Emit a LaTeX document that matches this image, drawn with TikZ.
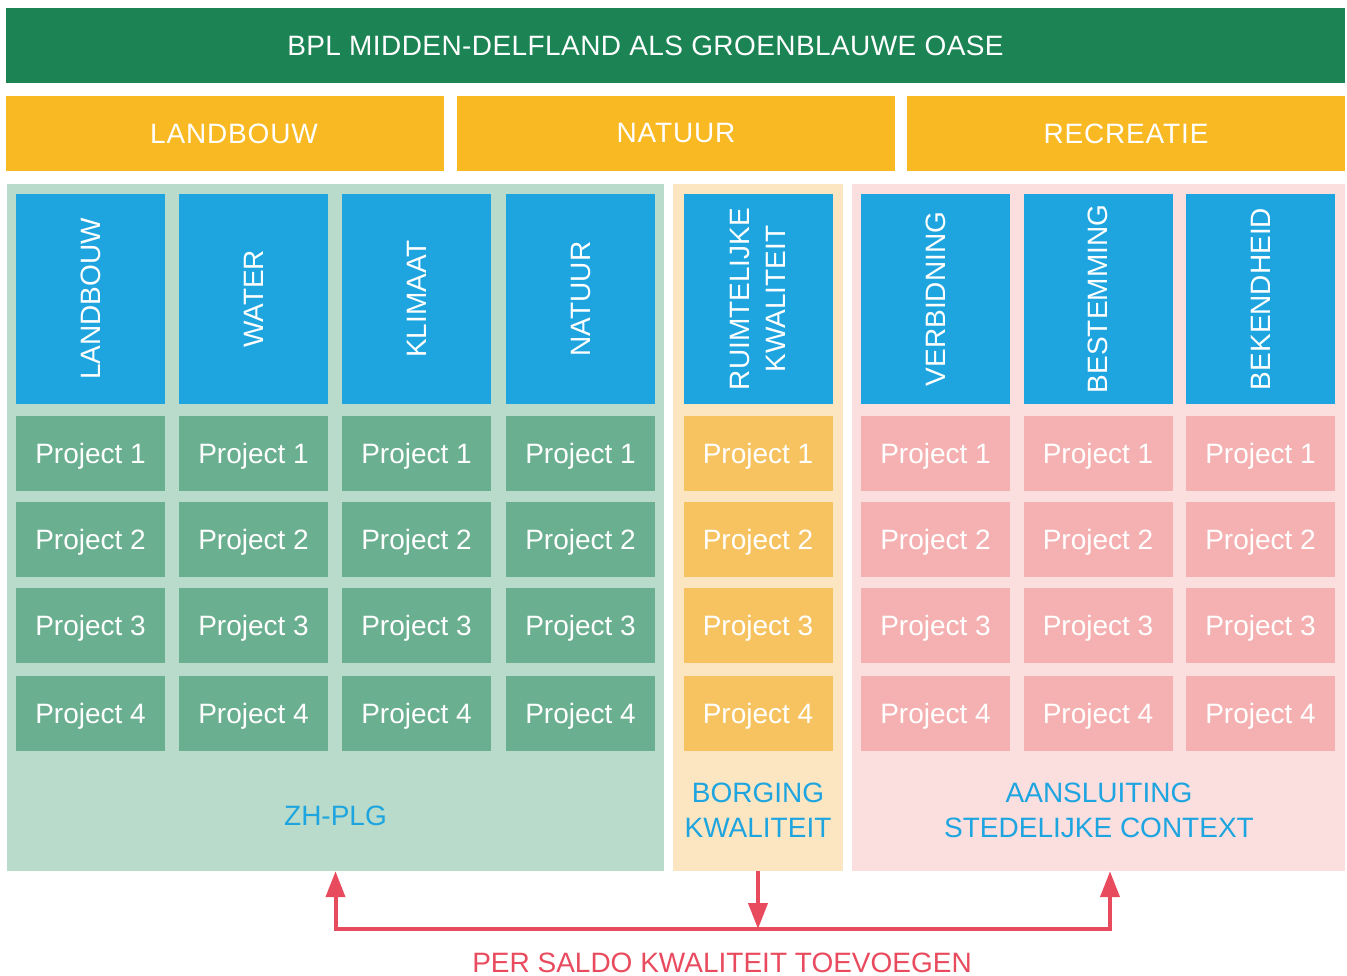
\documentclass[tikz,border=0pt]{standalone}
\usepackage{fontspec}
\setmainfont{Liberation Sans}
\usepackage{tikz}
\usetikzlibrary{positioning, arrows.meta}
\definecolor{bplgreen}{HTML}{1C8454}
\definecolor{themeorange}{HTML}{F9B922}
\definecolor{zhbg}{HTML}{B9DBCB}
\definecolor{zhproj}{HTML}{6AAF8F}
\definecolor{pillarblue}{HTML}{1EA5DF}
\definecolor{rkbg}{HTML}{FCE6C2}
\definecolor{rkproj}{HTML}{F6C360}
\definecolor{stbg}{HTML}{FBDFDF}
\definecolor{stproj}{HTML}{F5B1B1}
\definecolor{saldored}{HTML}{E94B5E}
\tikzstyle{bar} = [rectangle, inner sep=0pt, minimum height=75pt, text=white, font=\fontsize{28}{34}\selectfont\addfontfeature{LetterSpace=3}]
\tikzstyle{panel} = [rectangle, inner sep=0pt, minimum height=687pt]
\tikzstyle{pillar} = [rectangle, fill=pillarblue, inner sep=0pt, rotate=90, minimum width=210pt, minimum height=149pt, text=white, align=center, font=\fontsize{28}{36}\selectfont]
\tikzstyle{project} = [rectangle, inner sep=0pt, minimum width=149pt, minimum height=75pt, text=white, font=\fontsize{28}{34}\selectfont, text height=20pt, text depth=0pt]
\tikzstyle{caption} = [align=center, text=pillarblue, font=\fontsize{28}{35}\selectfont]
\tikzstyle{saldo} = [saldored, line width=4pt]
\tikzset{saldotip/.tip={Triangle[length=26pt,width=19pt]}}

\begin{document}
\begin{tikzpicture}[x=1pt, y=-1pt]
    \useasboundingbox (0,0) rectangle (1347,976);

    % header bars
    \node[bar, fill=bplgreen, minimum width=1339pt, font=\fontsize{28}{34}\selectfont\addfontfeature{LetterSpace=1.5}] (title) at (675.5,45.5) {BPL MIDDEN-DELFLAND ALS GROENBLAUWE OASE\hspace*{60pt}};
    \node[bar, fill=themeorange, minimum width=438pt] (landbouw) at (225,133.5) {\hspace*{18pt}LANDBOUW};
    \node[bar, fill=themeorange, minimum width=438pt] (natuur) at (676,133.5) {NATUUR};
    \node[bar, fill=themeorange, minimum width=438pt] (recreatie) at (1126,133.5) {RECREATIE};

    % background panels
    \node[panel, fill=zhbg, minimum width=657pt] (zhpanel) at (335.5,527.5) {};
    \node[panel, fill=rkbg, minimum width=170pt] (rkpanel) at (758,527.5) {};
    \node[panel, fill=stbg, minimum width=493pt] (stpanel) at (1098.5,527.5) {};

    % pillars
    \foreach \x/\txt [count=\c] in {90.5/LANDBOUW, 253.5/WATER, 416.5/KLIMAAT, 580.5/NATUUR,
                                    758/{RUIMTELIJKE\\KWALITEIT}, 935.5/VERBIDNING, 1098/BESTEMMING, 1260.5/BEKENDHEID}
        \node[pillar] (pillar-\c) at (\x,299) {\txt};

    % projects
    \foreach \x/\col [count=\c] in {90.5/zhproj, 253.5/zhproj, 416.5/zhproj, 580.5/zhproj,
                                    758/rkproj, 935.5/stproj, 1098/stproj, 1260.5/stproj}
        \foreach \y [count=\n] in {453.5, 539.5, 625.5, 713.5}
            \node[project, fill=\col] (proj-\c-\n) at (\x,\y) {Project \n};

    % captions
    \node[caption] (zhlabel) at (335.5,815.5) {ZH-PLG};
    \node[caption] (rklabel) at (758,810) {BORGING\\KWALITEIT};
    \node[caption] (stlabel) at (1099,810) {AANSLUITING\\STEDELIJKE CONTEXT};

    % per saldo arrows
    \coordinate (zhturn) at (335.5,929);
    \coordinate (stturn) at (1110,929);
    \draw[saldo, saldotip-saldotip] (zhpanel.south) -- (zhturn) -- (stturn) -- (stturn |- stpanel.south);
    \draw[saldo, -saldotip] (rkpanel.south) -- (rkpanel.south |- zhturn);
    \node[anchor=base, inner sep=0pt, text depth=0pt, text=saldored, font=\fontsize{28}{34}\selectfont] (saldolabel) at (722,972.5) {PER SALDO KWALITEIT TOEVOEGEN};
\end{tikzpicture}
\end{document}
